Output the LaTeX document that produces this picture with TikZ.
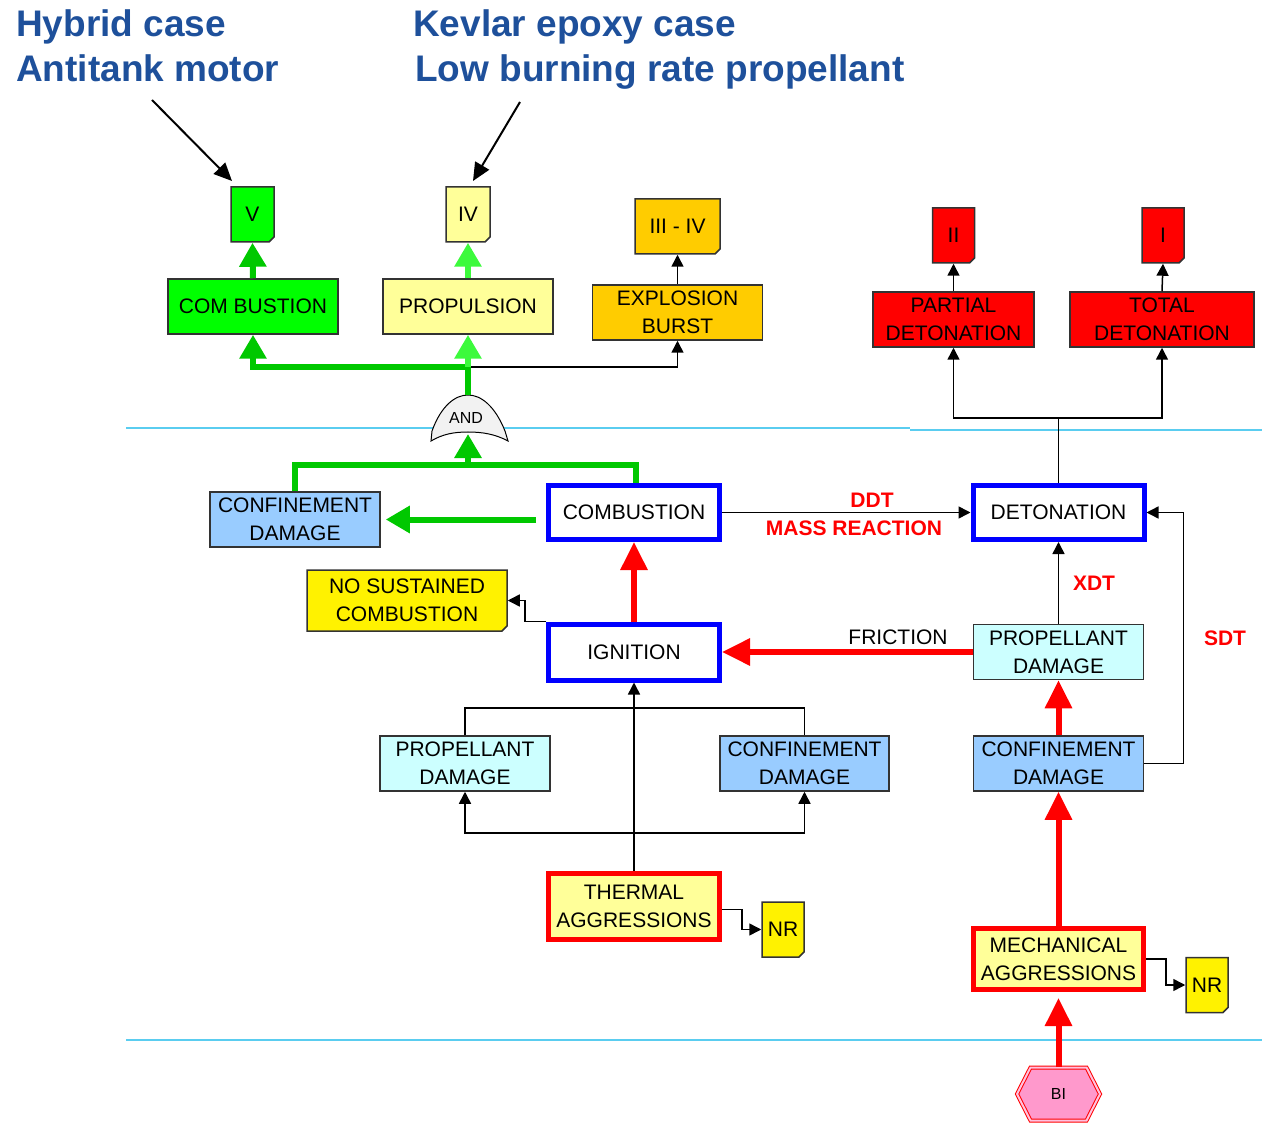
\documentclass[tikz,border=0pt]{standalone}
\usepackage{fontspec}
\setmainfont{Liberation Sans}
\usetikzlibrary{arrows.meta,shapes.misc,shapes.symbols}
\definecolor{gdark}{RGB}{0,200,0}
\definecolor{glight}{RGB}{60,250,60}
\definecolor{gfill}{RGB}{0,255,0}
\definecolor{lyellow}{RGB}{255,255,153}
\definecolor{orangey}{RGB}{255,204,0}
\definecolor{lblue}{RGB}{153,204,255}
\definecolor{lcyan}{RGB}{204,255,255}
\definecolor{pinkfill}{RGB}{255,153,204}
\definecolor{titleblue}{RGB}{30,80,155}
\definecolor{skyline}{RGB}{90,205,240}
\newcommand\boxfont{\fontsize{21}{28}\selectfont}
\newcommand\lblfont{\fontsize{21}{25}\selectfont\bfseries}
\newcommand\ttlfont{\fontsize{37}{44}\selectfont\bfseries}
\tikzset{
  box/.style={draw=black!80, line width=1.5pt, minimum height=55, align=center, font=\boxfont, inner sep=2pt},
  bluebox/.style={box, draw=blue, line width=5pt, fill=white},
  aggbox/.style={box, draw=red, line width=5pt, fill=lyellow},
  notebox/.style={box, chamfered rectangle, chamfered rectangle corners=south east, chamfered rectangle sep=2.5pt},
  garrow/.style={draw=gdark, line width=6pt, -{Triangle[length=24pt,width=26pt]}},
  gline/.style={draw=gdark, line width=6pt},
  glarrow/.style={draw=glight, line width=6pt, -{Triangle[length=24pt,width=26pt]}},
  rarrow/.style={draw=red, line width=6pt, -{Triangle[length=28pt,width=26pt]}},
  barrow/.style={draw=black, line width=1.5pt, -{Triangle[length=12pt,width=12pt]}},
  bline/.style={draw=black, line width=1.5pt},
  tarrow/.style={draw=black, line width=2pt, -{Triangle[length=18pt,width=16pt]}},
  lbl/.style={font=\lblfont, text=red, inner sep=0pt},
  ttl/.style={font=\ttlfont, text=titleblue, anchor=base west, inner sep=0pt},
}
\begin{document}
\begin{tikzpicture}[x=1pt,y=-1pt]
\useasboundingbox (0,0) rectangle (1262,1123);
% separator lines
\draw[skyline, line width=1.5pt] (126,428) -- (910,428);
\draw[skyline, line width=1.5pt] (910,430) -- (1262,430);
\draw[skyline, line width=1.5pt] (126,1040) -- (1262,1040);

% titles
\node[ttl] (t1) at (16,37) {Hybrid case};
\node[ttl] (t2) at (16,82) {Antitank motor};
\node[ttl] (t3) at (413,37) {Kevlar epoxy case};
\node[ttl] (t4) at (415,82) {Low burning rate propellant};
\coordinate (a1s) at (152,100);
\coordinate (a1e) at (232,181);
\coordinate (a2s) at (520,102);
\coordinate (a2e) at (473,181);
\draw[tarrow] (a1s) -- (a1e);
\draw[tarrow] (a2s) -- (a2e);

% top level nodes
\node[notebox, fill=gfill, minimum width=43] (V) at (252.5,214.5) {V};
\node[notebox, fill=lyellow, minimum width=44] (IV) at (468,214.5) {IV};
\node[notebox, fill=orangey, minimum width=85] (III) at (677.5,226.5) {III - IV};
\node[box, fill=gfill, minimum width=170] (comb2) at (253,306.5) {COM BUSTION};
\node[box, fill=lyellow, minimum width=170] (prop) at (468,306.5) {PROPULSION};
\node[box, fill=orangey, minimum width=170] (expl) at (677.5,312.5) {EXPLOSION\\BURST};
\node[notebox, fill=red, minimum width=42] (II) at (953.5,235.5) {II};
\node[notebox, fill=red, minimum width=42] (I) at (1163,235.5) {I};
\node[box, fill=red, minimum width=161] (partial) at (953.5,319.5) {PARTIAL\\DETONATION};
\node[box, fill=red, minimum width=184] (total) at (1162,319.5) {TOTAL\\DETONATION};

% AND gate
\draw[fill=black!5, line width=1pt] (431,441) -- (432,431) .. controls (441,406) and (455,395) .. (468,395) .. controls (481,395) and (495,406) .. (505,431) -- (508,441) .. controls (495,434) and (482,432) .. (468,432) .. controls (454,432) and (443,434) .. (431,441) -- cycle;
\node[font=\fontsize{16}{18}\selectfont, inner sep=0pt] (and) at (466,418) {AND};
\coordinate (andtop) at (468,395);
\coordinate (andbot) at (468,434);

% middle nodes
\node[box, fill=lblue, minimum width=170] (confU) at (295,519.5) {CONFINEMENT\\DAMAGE};
\node[bluebox, minimum width=171, minimum height=54] (combustion) at (634,512.5) {COMBUSTION};
\node[bluebox, minimum width=171, minimum height=54] (detonation) at (1058.5,512.5) {DETONATION};
\node[notebox, fill=yellow, minimum width=200, minimum height=61] (nosus) at (407,600.5) {NO SUSTAINED\\COMBUSTION};
\node[bluebox, minimum width=171, minimum height=56] (ignition) at (634,652) {IGNITION};
\node[box, fill=lcyan, minimum width=170] (propR) at (1058.5,652) {PROPELLANT\\DAMAGE};
\node[box, fill=lblue, minimum width=170] (confR) at (1058.5,763.5) {CONFINEMENT\\DAMAGE};
\node[box, fill=lcyan, minimum width=170] (propL) at (465,763.5) {PROPELLANT\\DAMAGE};
\node[box, fill=lblue, minimum width=169] (confM) at (804.5,763.5) {CONFINEMENT\\DAMAGE};
\node[aggbox, minimum width=171, minimum height=66] (thermal) at (634,906.5) {THERMAL\\AGGRESSIONS};
\node[notebox, fill=yellow, minimum width=42] (nr1) at (783,929.5) {NR};
\node[aggbox, minimum width=170, minimum height=61] (mech) at (1058.5,959) {MECHANICAL\\AGGRESSIONS};
\node[notebox, fill=yellow, minimum width=42] (nr2) at (1207,985) {NR};
\node[signal, signal to=east and west, signal pointer angle=126, draw=red, line width=1pt, double=pinkfill!60, double distance=2pt, fill=pinkfill, minimum width=83, minimum height=53, inner sep=0pt, font=\fontsize{16}{18}\selectfont] (bi) at (1058.5,1094) {BI};

% junctions
\coordinate (j1) at (468,367);
\coordinate (j2) at (468,465);
\coordinate (j3) at (1058.5,418);
\coordinate (j4) at (634,833);
\coordinate (j5) at (634,708);

% top connectors
\draw[garrow] (comb2.north) -- (V.south);
\draw[glarrow] (prop.north) -- (IV.south);
\draw[barrow] (expl.north) -- (III.south);
\draw[barrow] (partial.north) -- (II.south);
\draw[barrow] (total.north) -- (I.south);
\draw[barrow] (j1) -| (expl.south);
\draw[garrow] (j1) -| (comb2.south);
\draw[gline] (andtop) -- (j1);
\draw[glarrow] (j1) -- (prop.south);
\draw[bline] (detonation.north) -- (j3);
\draw[barrow] (j3) -| (partial.south);
\draw[barrow] (j3) -| (total.south);

% and inputs
\draw[gline] (confU.north) |- (j2) -| ([xshift=2pt]combustion.north);
\draw[garrow] (j2) -- (andbot);
\draw[garrow, shorten <=10pt, shorten >=5pt] (combustion.west |- confU.east) -- (confU.east);

% middle connectors
\draw[barrow] (combustion.east) -- (detonation.west);
\node[lbl] (ddt) at (872,500) {DDT};
\node[lbl] (mass) at (854,528) {MASS REACTION};
\draw[barrow] (ignition.north west) -- ++(-21,0) |- (nosus.east);
\draw[rarrow] (ignition.north) -- (combustion.south);
\draw[rarrow] (propR.west) -- (ignition.east);
\node[font=\boxfont, inner sep=0pt] (fric) at (898,637) {FRICTION};
\draw[barrow] (propR.north) -- (detonation.south);
\node[lbl] (xdt) at (1094,583) {XDT};
\draw[rarrow] (confR.north) -- (propR.south);
\draw[barrow] (confR.east) -- ++(39,0) |- (detonation.east);
\node[lbl] (sdt) at (1225,638) {SDT};
\draw[rarrow] (mech.north) -- (confR.south);
\draw[rarrow, shorten >=6pt] (bi.north) -- (mech.south);
\draw[barrow] (mech.east) -- ++(20,0) |- (nr2.west);
\draw[barrow] ([yshift=-3pt]thermal.east) -- ++(20,0) |- (nr1.west);
\draw[barrow] (thermal.north) -- (ignition.south);
\draw[barrow] (j4) -| (propL.south);
\draw[barrow] (j4) -| (confM.south);
\draw[bline] (propL.north) |- (j5) -| (confM.north);
\end{tikzpicture}
\end{document}
